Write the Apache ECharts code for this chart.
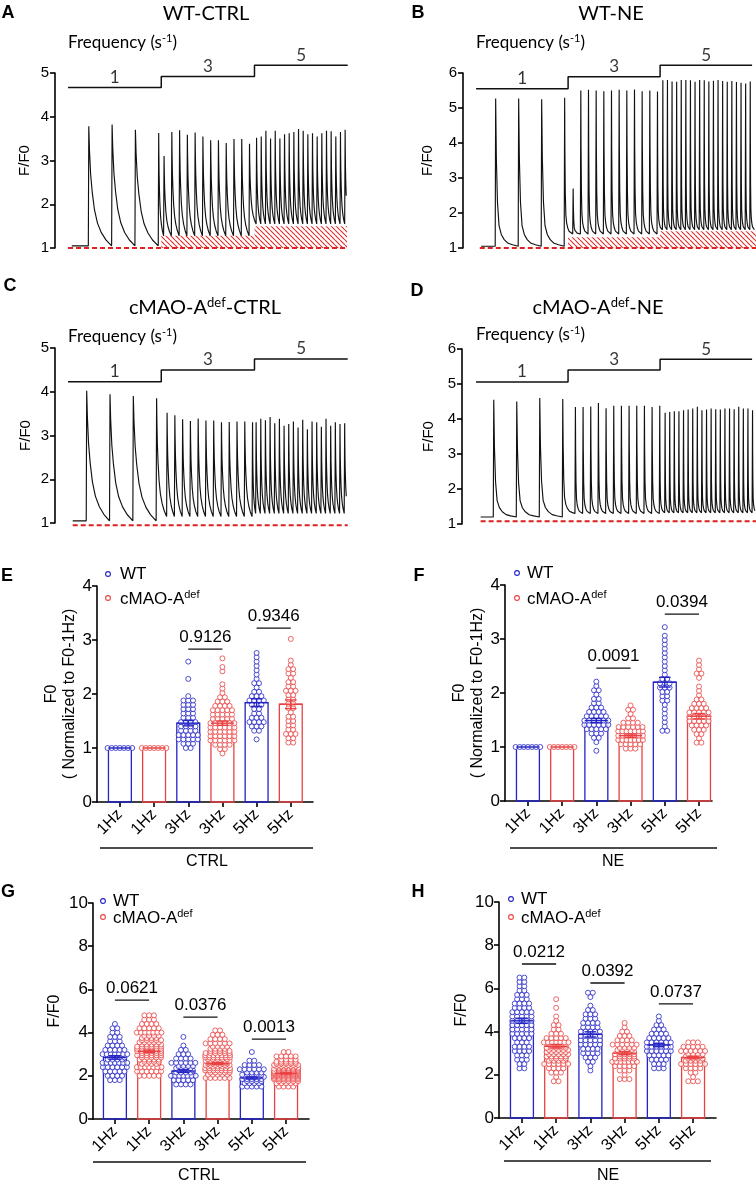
<!DOCTYPE html>
<html>
<head>
<meta charset="utf-8">
<script src="https://cdn.jsdelivr.net/npm/echarts@6/dist/echarts.min.js"></script>
<style>
  html, body { margin: 0; padding: 0; background: #fff; }
  #main { width: 756px; height: 1187px; }
</style>
</head>
<body>
<div id="main"></div>
<script>
// ---------- traces A-D (F/F0, time in s) ----------
var freqs = [1, 3, 5];
var segEdges = [0, 4, 8, 12];
// decay of one transient, as fraction of amplitude left vs fraction of the beat interval
var decayT = [0, 0.03, 0.08, 0.15, 0.25, 0.38, 0.55, 0.75, 1];
var decaySlow = [1, 0.8, 0.6, 0.45, 0.3, 0.19, 0.11, 0.05, 0];
var decayFast = [1, 0.6, 0.3, 0.14, 0.08, 0.045, 0.02, 0.01, 0];

var aFirst = [0.87, 4.1, 8.07];
var aPeaks1 = [3.78, 3.82, 3.70, 3.63];
var aPeaks3 = [3.10, 3.65, 3.69, 3.59, 3.64, 3.55, 3.46, 3.46, 3.40, 3.49, 3.49, 3.38];
var aPeaks5 = [3.52, 3.55, 3.68, 3.50, 3.68, 3.50, 3.60, 3.62, 3.65, 3.72, 3.68, 3.60, 3.62, 3.55, 3.62, 3.68, 3.67, 3.55, 3.65, 3.70];
var aLevels = [1.05, 1.28, 1.55];
var aSteps = [4.67, 4.92, 5.18];
var aHatch = [1.28, 1.5];

var bFirst = [0.83, 4.2, 8.1];
var bPeaks1 = [5.27, 5.27, 5.25, 5.29];
var bPeaks3 = [2.70, 5.50, 5.52, 5.50, 5.48, 5.50, 5.52, 5.50, 5.53, 5.48, 5.50, 5.47];
var bPeaks5 = [5.79, 5.80, 5.76, 5.75, 5.80, 5.80, 5.79, 5.75, 5.80, 5.79, 5.76, 5.78, 5.80, 5.77, 5.75, 5.77, 5.74, 5.72, 5.70, 5.76];
var bLevels = [1.05, 1.4, 1.52];
var bSteps = [5.55, 5.89, 6.22];
var bHatch = [1.31, 1.48];

var cFirst = [0.78, 4.23, 8.05];
var cPeaks1 = [4.02, 3.94, 3.90, 3.85];
var cPeaks3 = [3.52, 3.46, 3.37, 3.33, 3.39, 3.34, 3.34, 3.30, 3.31, 3.32, 3.32, 3.30];
var cPeaks5 = [3.30, 3.38, 3.35, 3.42, 3.28, 3.38, 3.22, 3.26, 3.32, 3.18, 3.36, 3.14, 3.32, 3.30, 3.20, 3.38, 3.22, 3.30, 3.26, 3.28];
var cLevels = [1.05, 1.15, 1.22];
var cSteps = [4.23, 4.5, 4.75];

var dFirst = [0.75, 4.3, 8.2];
var dPeaks1 = [4.55, 4.50, 4.60, 4.57];
var dPeaks3 = [4.34, 4.34, 4.36, 4.46, 4.31, 4.38, 4.38, 4.38, 4.38, 4.38, 4.34, 4.38];
var dPeaks5 = [4.18, 4.20, 4.22, 4.22, 4.25, 4.27, 4.30, 4.35, 4.25, 4.27, 4.30, 4.28, 4.27, 4.30, 4.30, 4.28, 4.35, 4.30, 4.30, 4.25];
var dLevels = [1.2, 1.3, 1.32];
var dSteps = [5.06, 5.4, 5.71];

// ---------- scatter/bar panels E-H ----------
var hzLabels = ['1Hz', '1Hz', '3Hz', '3Hz', '5Hz', '5Hz'];
// number of cells per value bin, starting at *Start, bin width *Bin
var eBin = 0.08;
var eStart = [1.0, 1.0, 1.0, 0.9, 1.16, 1.1];
var eCounts = [[7], [7],
  [2, 3, 5, 5, 4, 4, 4, 3, 3, 3, 3, 3, 1, 0, 0, 0, 1, 0, 0, 0, 1],
  [1, 2, 4, 6, 6, 6, 6, 6, 5, 5, 5, 4, 3, 2, 1, 1, 1, 0, 0, 1, 1, 0, 1],
  [1, 0, 2, 3, 4, 3, 2, 2, 3, 4, 3, 2, 1, 2, 1, 1, 1, 1, 1, 1, 1],
  [2, 2, 3, 2, 2, 2, 2, 1, 2, 2, 2, 2, 3, 2, 2, 1, 2, 2, 1, 1, 0, 0, 0, 0, 1]];
var eMean = [1.0, 1.0, 1.46, 1.46, 1.84, 1.81];
var eSem = [0, 0, 0.05, 0.04, 0.07, 0.08];
var ePvY = [2.83, 3.22];
var ePvText = ['0.9126', '0.9346'];

var fBin = 0.08;
var fStart = [1.0, 1.0, 0.93, 0.97, 1.3, 1.08];
var fCounts = [[7], [7],
  [1, 0, 1, 2, 3, 5, 6, 6, 5, 4, 3, 2, 2, 1, 2, 1, 1],
  [3, 5, 7, 7, 7, 6, 4, 2, 1, 2, 1],
  [2, 1, 1, 1, 1, 1, 1, 2, 2, 2, 3, 3, 2, 1, 1, 1, 1, 1, 1, 1, 1, 1, 1, 0, 1],
  [2, 1, 2, 3, 4, 5, 5, 5, 4, 3, 2, 1, 1, 1, 0, 1, 2, 1, 1, 1]];
var fMean = [1.0, 1.0, 1.49, 1.21, 2.2, 1.57];
var fSem = [0, 0, 0.04, 0.03, 0.09, 0.05];
var fPvY = [2.46, 3.46];
var fPvText = ['0.0091', '0.0394'];

var gBin = 0.2;
var gStart = [1.8, 2.0, 1.6, 1.9, 1.5, 1.5];
var gCounts = [[3, 4, 5, 6, 7, 8, 7, 5, 4, 3, 3, 2, 2, 1],
  [5, 6, 7, 8, 10, 11, 12, 11, 10, 8, 7, 5, 4, 3, 3],
  [4, 5, 7, 8, 8, 6, 4, 3, 2, 1, 0, 1],
  [6, 10, 14, 16, 16, 14, 11, 8, 6, 4, 3, 2],
  [5, 8, 10, 9, 6, 4, 2, 0, 1],
  [4, 10, 18, 24, 22, 16, 9, 5, 2]];
var gMean = [2.85, 3.13, 2.22, 2.57, 1.9, 2.11];
var gSem = [0.08, 0.06, 0.06, 0.04, 0.05, 0.03];
var gPvY = [5.5, 4.72, 3.7];
var gPvText = ['0.0621', '0.0376', '0.0013'];

var hBin = 0.2;
var hStart = [2.3, 1.7, 2.2, 1.8, 2.3, 1.7];
var hCounts = [[2, 2, 3, 3, 4, 4, 3, 4, 5, 5, 5, 5, 5, 5, 4, 4, 3, 3, 2, 2, 2, 2],
  [2, 1, 3, 4, 6, 8, 10, 10, 9, 7, 5, 3, 2, 2, 1, 1, 0, 1, 0, 1],
  [1, 1, 2, 3, 4, 4, 5, 5, 5, 5, 4, 4, 3, 3, 2, 1, 0, 1, 2],
  [3, 1, 3, 5, 7, 9, 9, 8, 6, 4, 3, 2, 1, 1],
  [3, 3, 4, 5, 6, 6, 6, 5, 4, 3, 2, 1, 1],
  [3, 1, 2, 4, 6, 8, 8, 6, 5, 3]];
var hMean = [4.5, 3.32, 3.87, 3.0, 3.38, 2.8];
var hSem = [0.12, 0.08, 0.12, 0.07, 0.08, 0.06];
var hPvY = [7.13, 6.25, 5.28];
var hPvText = ['0.0212', '0.0392', '0.0737'];

var FA = "'Liberation Sans', Arial, sans-serif";
var FT = "Lato, 'Open Sans', sans-serif";
var BLUE = '#2424c6', RED = '#ea4242';
var grpColor = [BLUE, RED];

var grids = [], xAxes = [], yAxes = [], series = [], graphics = [];

function hatchPattern() {
  var c = document.createElement('canvas');
  c.width = 5; c.height = 5;
  var ctx = c.getContext('2d');
  ctx.fillStyle = '#fff';
  ctx.fillRect(0, 0, 5, 5);
  ctx.strokeStyle = '#e02c2c';
  ctx.lineWidth = 1.1;
  ctx.beginPath();
  for (var k = -5; k <= 5; k += 5) { ctx.moveTo(k, 0); ctx.lineTo(k + 5, 5); }
  ctx.stroke();
  return c;
}
var HATCH = { image: hatchPattern(), repeat: 'repeat' };

function buildTrace(first, peaks, levels, range, shape) {
  var beats = [];
  for (var s = 0; s < 3; s++) {
    for (var i = 0; i < peaks[s].length; i++) {
      beats.push({ t: first[s] + i / freqs[s], p: peaks[s][i], lv: levels[s], f: freqs[s] });
    }
  }
  var pts = [[range[0], levels[0]]];
  beats.forEach(function (b, i) {
    var next = beats[i + 1];
    var dur = next ? next.t - b.t : 1 / b.f;
    var target = next ? next.lv : b.lv;
    pts.push([b.t, b.lv]);
    pts.push([b.t + 0.02, b.p]);
    for (var k = 1; k < decayT.length; k++) {
      var t = b.t + 0.02 + decayT[k] * (dur - 0.02);
      if (t > range[1]) break;
      pts.push([t, target + (b.p - target) * shape[k]]);
    }
  });
  return pts;
}

function tracePanel(o) {
  var idx = grids.length;
  grids.push({ left: o.grid[0], top: o.grid[1], width: o.grid[2], height: o.grid[3] });
  xAxes.push({ gridIndex: idx, type: 'value', min: o.xr[0], max: o.xr[1], show: false });
  yAxes.push({
    gridIndex: idx, type: 'value', min: 1, max: o.yMax, interval: 1,
    axisLine: { show: true, onZero: false, lineStyle: { color: '#000', width: 1.6 } },
    axisTick: { show: true, length: 5, lineStyle: { color: '#000', width: 1.6 } },
    axisLabel: { color: '#000', fontSize: 15, fontFamily: FA, margin: 6 },
    splitLine: { show: false },
    name: 'F/F0', nameLocation: 'middle', nameRotate: 90, nameGap: o.nameGap,
    nameTextStyle: { color: '#000', fontSize: 15, fontFamily: FA }
  });
  var dash = {
    type: 'line', xAxisIndex: idx, yAxisIndex: idx, symbol: 'none', z: 2, clip: false,
    data: [[o.dashX[0], o.dashY], [o.dashX[1], o.dashY]],
    lineStyle: { color: '#e01f1f', width: 2, type: [5, 3] }
  };
  if (o.hatch) {
    dash.markArea = {
      silent: true,
      itemStyle: { color: HATCH, opacity: 1 },
      data: [
        [{ xAxis: segEdges[1], yAxis: o.dashY }, { xAxis: segEdges[2], yAxis: o.hatch[0] }],
        [{ xAxis: segEdges[2], yAxis: o.dashY }, { xAxis: o.dashX[1], yAxis: o.hatch[1] }]
      ]
    };
  }
  series.push(dash);
  series.push({
    type: 'line', xAxisIndex: idx, yAxisIndex: idx, symbol: 'none', z: 3, clip: false,
    data: buildTrace(o.first, o.peaks, o.levels, o.range, o.shape),
    lineStyle: { color: '#111', width: 1.15 }
  });
  var st = o.steps;
  series.push({
    type: 'line', xAxisIndex: idx, yAxisIndex: idx, symbol: 'none', z: 3, clip: false,
    data: [[segEdges[0], st[0]], [segEdges[1], st[0]], [segEdges[1], st[1]], [segEdges[2], st[1]], [segEdges[2], st[2]], [segEdges[3], st[2]]],
    lineStyle: { color: '#111', width: 1.5 }
  });
  series.push({
    type: 'scatter', xAxisIndex: idx, yAxisIndex: idx, symbolSize: 1, clip: false, z: 3,
    itemStyle: { color: 'rgba(0,0,0,0)' },
    data: [[2, st[0]], [6, st[1]], [10, st[2]]],
    label: {
      show: true, position: 'top', distance: 1, color: '#000', fontSize: 17, fontFamily: FT,
      formatter: function (p) { return String(freqs[p.dataIndex]); }
    }
  });
}

function swarm(starts, counts, bin, groups) {
  var pts = [];
  groups.forEach(function (i) {
    counts[i].forEach(function (n, k) {
      if (!n) return;
      var v = starts[i] + k * bin;
      var rows = Math.ceil(n / 7), left = n;
      for (var r = 0; r < rows; r++) {
        var m = Math.round(left / (rows - r));
        left -= m;
        var y = v + (r - (rows - 1) / 2) * bin / rows;
        var sp = m > 1 ? Math.min(0.14, 0.72 / (m - 1)) : 0;
        var shift = (r % 2 && m < 6) ? 0.07 : 0;
        for (var j = 0; j < m; j++) pts.push([i + (j - (m - 1) / 2) * sp + shift, y]);
      }
    });
  });
  return pts;
}

function barPanel(o) {
  var idx = grids.length;
  var axStyle = { color: '#000', width: 1.6 };
  grids.push({ left: o.grid[0], top: o.grid[1], width: o.grid[2], height: o.grid[3] });
  xAxes.push({
    gridIndex: idx, type: 'value', min: o.xr[0], max: o.xr[1],
    axisLine: { show: true, onZero: false, lineStyle: axStyle },
    axisTick: { show: true, customValues: [0, 1, 2, 3, 4, 5], length: 5, lineStyle: axStyle },
    axisLabel: {
      customValues: [0, 1, 2, 3, 4, 5], rotate: 45, color: '#000', fontSize: 16, fontFamily: FA, margin: 10,
      formatter: function (v) { return hzLabels[Math.round(v)]; }
    },
    splitLine: { show: false }
  });
  yAxes.push({
    gridIndex: idx, type: 'value', min: 0, max: o.yMax, interval: o.yInt,
    axisLine: { show: true, onZero: false, lineStyle: axStyle },
    axisTick: { show: true, length: 5, lineStyle: axStyle },
    axisLabel: { color: '#000', fontSize: 17, fontFamily: FA, margin: 5 },
    splitLine: { show: false },
    name: o.yName, nameLocation: 'middle', nameRotate: 90, nameGap: o.nameGap,
    nameTextStyle: { color: '#000', fontSize: 16, fontFamily: FA, lineHeight: 18 }
  });
  var barData = o.mean.map(function (m, i) { return [i, m, o.sem[i]]; });
  series.push({
    type: 'custom', xAxisIndex: idx, yAxisIndex: idx, z: 2, data: barData, encode: { x: 0, y: 1 },
    renderItem: function (params, api) {
      var i = api.value(0), p0 = api.coord([i - 0.335, 0]), p1 = api.coord([i + 0.335, api.value(1)]);
      return {
        type: 'rect', shape: { x: p0[0], y: p1[1], width: p1[0] - p0[0], height: p0[1] - p1[1] },
        style: { fill: 'none', stroke: grpColor[i % 2], lineWidth: 1.3 }
      };
    }
  });
  series.push({
    type: 'scatter', name: 'WT', xAxisIndex: idx, yAxisIndex: idx, z: 3, symbolSize: 5,
    itemStyle: { color: '#fff', borderColor: BLUE, borderWidth: 1 },
    data: swarm(o.start, o.counts, o.bin, [0, 2, 4])
  });
  series.push({
    type: 'scatter', name: 'cMAO-A', xAxisIndex: idx, yAxisIndex: idx, z: 3, symbolSize: 5,
    itemStyle: { color: '#fff', borderColor: RED, borderWidth: 1 },
    data: swarm(o.start, o.counts, o.bin, [1, 3, 5])
  });
  series.push({
    type: 'custom', xAxisIndex: idx, yAxisIndex: idx, z: 4, data: barData, encode: { x: 0, y: 1 },
    renderItem: function (params, api) {
      var i = api.value(0), m = api.value(1), s = api.value(2);
      var c = grpColor[i % 2];
      var top = api.coord([i, m + s]), bot = api.coord([i, m - s]);
      var l = api.coord([i - 0.17, m + s]), r = api.coord([i + 0.17, m + s]);
      var lb = api.coord([i - 0.17, m - s]), rb = api.coord([i + 0.17, m - s]);
      var ml = api.coord([i - 0.335, m]), mr = api.coord([i + 0.335, m]);
      var st = { stroke: c, lineWidth: 1.4 };
      var kids = [{ type: 'line', shape: { x1: ml[0], y1: ml[1], x2: mr[0], y2: mr[1] }, style: st }];
      if (s > 0) {
        kids.push({ type: 'line', shape: { x1: top[0], y1: top[1], x2: bot[0], y2: bot[1] }, style: st });
        kids.push({ type: 'line', shape: { x1: l[0], y1: l[1], x2: r[0], y2: r[1] }, style: st });
        kids.push({ type: 'line', shape: { x1: lb[0], y1: lb[1], x2: rb[0], y2: rb[1] }, style: st });
      }
      return { type: 'group', children: kids };
    }
  });
  var pvData = o.pvY.map(function (y, k) {
    var a = o.pvY.length === 2 ? 2 + 2 * k : 2 * k;
    return [a, a + 1, y];
  });
  series.push({
    type: 'custom', xAxisIndex: idx, yAxisIndex: idx, z: 5, data: pvData, encode: { x: 0, y: 2 },
    renderItem: function (params, api) {
      var a = api.coord([api.value(0), api.value(2)]), b = api.coord([api.value(1), api.value(2)]);
      return {
        type: 'group', children: [
          { type: 'line', shape: { x1: a[0], y1: a[1], x2: b[0], y2: b[1] }, style: { stroke: '#111', lineWidth: 1.3 } },
          {
            type: 'text', x: (a[0] + b[0]) / 2, y: a[1] - 12,
            style: {
              text: o.pvText[params.dataIndex], fill: '#000', font: '17px ' + FA,
              textAlign: 'center', textVerticalAlign: 'middle', align: 'center', verticalAlign: 'middle'
            }
          }
        ]
      };
    }
  });
}

function supRich(size, ff) {
  return {
    a: { fontSize: size, fontFamily: ff, color: '#000' },
    s: { fontSize: Math.round(size * 0.65), fontFamily: ff, color: '#000', padding: [0, 0, Math.round(size * 0.55), 0] }
  };
}
function txt(x, y, s, size, opt) {
  opt = opt || {};
  var al = opt.align || 'center';
  var st = {
    text: s, fill: '#000', fontSize: size, fontFamily: opt.ff || FA, fontWeight: opt.fw || 'normal',
    textAlign: al, align: al, textVerticalAlign: 'middle', verticalAlign: 'middle'
  };
  if (opt.rich) st.rich = opt.rich;
  graphics.push({ type: 'text', x: x, y: y, style: st, z: 100 });
}
function hline(x1, x2, y) {
  graphics.push({ type: 'line', shape: { x1: x1, y1: y, x2: x2, y2: y }, style: { stroke: '#111', lineWidth: 1.6 }, z: 100 });
}
function legend(x, y1, y2, tx) {
  graphics.push({ type: 'circle', shape: { cx: x, cy: y1, r: 2.4 }, style: { fill: '#fff', stroke: BLUE, lineWidth: 1.1 }, z: 100 });
  graphics.push({ type: 'circle', shape: { cx: x, cy: y2, r: 2.4 }, style: { fill: '#fff', stroke: RED, lineWidth: 1.1 }, z: 100 });
  txt(tx, y1, 'WT', 17, { align: 'left' });
  txt(tx, y2 + 1, '{a|cMAO-A}{s|def}', 17, { align: 'left', rich: supRich(17, FA) });
}

// ---- panels ----
tracePanel({ grid: [55, 73, 292, 175], xr: [-0.56, 11.97], yMax: 5, nameGap: 23,
  first: aFirst, peaks: [aPeaks1, aPeaks3, aPeaks5], levels: aLevels, range: [0.16, 11.95], shape: decaySlow,
  steps: aSteps, hatch: aHatch, dashY: 1.0, dashX: [0, 11.97] });
tracePanel({ grid: [463, 73, 293, 175], xr: [-0.57, 12.17], yMax: 6, nameGap: 28,
  first: bFirst, peaks: [bPeaks1, bPeaks3, bPeaks5], levels: bLevels, range: [0.22, 12.15], shape: decayFast,
  steps: bSteps, hatch: bHatch, dashY: 1.0, dashX: [0.16, 12.17] });
tracePanel({ grid: [55, 348, 292, 175], xr: [-0.56, 11.97], yMax: 5, nameGap: 22,
  first: cFirst, peaks: [cPeaks1, cPeaks3, cPeaks5], levels: cLevels, range: [0.2, 11.95], shape: decaySlow,
  steps: cSteps, hatch: null, dashY: 0.95, dashX: [0.2, 12.0] });
tracePanel({ grid: [462, 349, 294, 175], xr: [-0.61, 12.17], yMax: 6, nameGap: 26,
  first: dFirst, peaks: [dPeaks1, dPeaks3, dPeaks5], levels: dLevels, range: [0.2, 12.15], shape: decayFast,
  steps: dSteps, hatch: null, dashY: 1.08, dashX: [0.2, 12.17] });

barPanel({ grid: [97, 586, 216, 216], xr: [-0.67, 5.65], yMax: 4, yInt: 1, yName: 'F0\n( Normalized to F0-1Hz)', nameGap: 15,
  start: eStart, counts: eCounts, bin: eBin, mean: eMean, sem: eSem, pvY: ePvY, pvText: ePvText });
barPanel({ grid: [505, 585, 207, 216], xr: [-0.67, 5.38], yMax: 4, yInt: 1, yName: 'F0\n( Normalized to F0-1Hz)', nameGap: 17,
  start: fStart, counts: fCounts, bin: fBin, mean: fMean, sem: fSem, pvY: fPvY, pvText: fPvText });
barPanel({ grid: [93, 903, 216, 216], xr: [-0.64, 5.67], yMax: 10, yInt: 2, yName: 'F/F0', nameGap: 29,
  start: gStart, counts: gCounts, bin: gBin, mean: gMean, sem: gSem, pvY: gPvY, pvText: gPvText });
barPanel({ grid: [499, 902, 217, 216], xr: [-0.67, 5.67], yMax: 10, yInt: 2, yName: 'F/F0', nameGap: 28,
  start: hStart, counts: hCounts, bin: hBin, mean: hMean, sem: hSem, pvY: hPvY, pvText: hPvText });

// ---- texts ----
[['A', 8, 13], ['B', 418, 13], ['C', 10, 286], ['D', 417, 291], ['E', 7, 576], ['F', 419, 576], ['G', 8, 892], ['H', 418, 892]]
  .forEach(function (p) { txt(p[1], p[2], p[0], 18, { fw: 'bold' }); });
txt(206, 14, 'WT-CTRL', 20, { ff: FT });
txt(611, 14, 'WT-NE', 20, { ff: FT });
txt(205, 308, '{a|cMAO-A}{s|def}{a|-CTRL}', 20, { ff: FT, rich: supRich(20, FT) });
txt(598, 308, '{a|cMAO-A}{s|def}{a|-NE}', 20, { ff: FT, rich: supRich(20, FT) });
[[68, 43], [476, 43], [68, 337], [476, 335]].forEach(function (p) {
  txt(p[0], p[1], '{a|Frequency (s}{s|-1}{a|)}', 17, { ff: FT, align: 'left', rich: supRich(17, FT) });
});
legend(108, 574, 598, 120);
legend(517, 573, 598, 527);
legend(103, 901, 917, 113);
legend(511, 899, 917, 521);
hline(100, 313, 848); txt(207, 862, 'CTRL', 16);
hline(510, 717, 848); txt(613, 862, 'NE', 16);
hline(93, 306, 1162); txt(199, 1176, 'CTRL', 16);
hline(504, 711, 1161); txt(608, 1176, 'NE', 16);

var chart = echarts.init(document.getElementById('main'));
chart.setOption({
  animation: false,
  backgroundColor: '#fff',
  grid: grids,
  xAxis: xAxes,
  yAxis: yAxes,
  series: series,
  graphic: { elements: graphics }
});
</script>
</body>
</html>
